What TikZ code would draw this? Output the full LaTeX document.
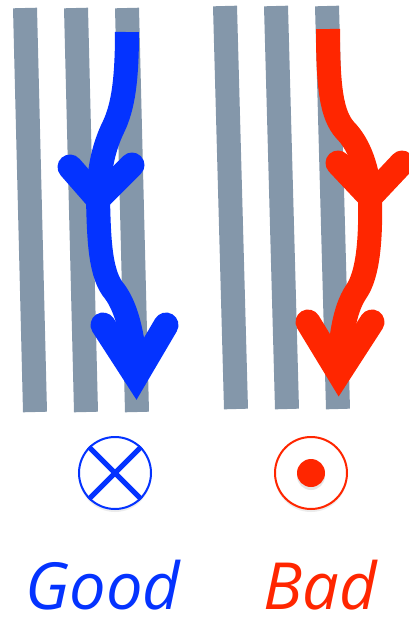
\documentclass[tikz,border=0pt]{standalone}
\usepackage{fontspec}
\setmainfont{Open Sans}
\usetikzlibrary{positioning}
\usetikzlibrary{shadows}
\definecolor{goodblue}{RGB}{4,51,255}
\definecolor{badred}{RGB}{255,38,0}
\definecolor{barcolor}{RGB}{132,151,170}

\begin{document}
\begin{tikzpicture}[
    x=1pt, y=-1pt,
    gridbar/.style={draw=barcolor, line width=24pt},
    flowstem/.style={line width=24pt, line cap=butt},
    flowhead/.style={line width=25pt, line cap=round, line join=miter},
    fieldring/.style={
        circle, draw, fill=white, line width=2pt,
        minimum size=72pt, inner sep=0pt,
        drop shadow={opacity=0.15, shadow xshift=0pt, shadow yshift=-3pt}
    },
    verdict/.style={font=\fontsize{65}{72}\selectfont\itshape, inner sep=0pt}
]
\useasboundingbox (0,0) rectangle (409,622);

% strips, left group
\draw[gridbar] (25,8) -- (35,412);
\draw[gridbar] (76,8) -- (86,412);
\draw[gridbar] (127,8) -- (137,412);

% strips, right group
\draw[gridbar] (225,6) -- (236,409);
\draw[gridbar] (276,6) -- (287,409);
\draw[gridbar] (327,6) -- (338,409);

\begin{scope}[goodblue]

\coordinate (b0) at (127,32);
\coordinate (b1) at (98,199);
\coordinate (b2) at (136,376);
\coordinate (bl1) at (70,167);
\coordinate (br1) at (132,165);
\coordinate (bl2) at (103,325);
\coordinate (br2) at (166,325);

\draw[flowstem] (b0) .. controls (127,90) and (121,112) .. (112,130)
    .. controls (103,150) and (99,170) .. (b1);
\draw[flowstem] (b1) .. controls (99,240) and (100,275) .. (115,292)
    .. controls (128,310) and (134,340) .. (b2);
\draw[flowhead] (bl1) -- (b1) -- (br1);
\draw[flowhead] (bl2) -- (b2) -- (br2);

\node[fieldring, draw=goodblue] (good sym) at (115,473) {};
\draw[line width=5pt] (good sym.north west) -- (good sym.south east);
\draw[line width=5pt] (good sym.north east) -- (good sym.south west);

\node[verdict, text=goodblue, anchor=base] (good word) at (103,609) {Good};

\end{scope}

\begin{scope}[badred]

\coordinate (r0) at (328,29);
\coordinate (r1) at (370,197);
\coordinate (r2) at (339,373);
\coordinate (rl1) at (338,163);
\coordinate (rr1) at (402,163);
\coordinate (rl2) at (308,322);
\coordinate (rr2) at (372,322);

\draw[flowstem] (r0) .. controls (328,90) and (332,115) .. (345,130)
    .. controls (360,145) and (368,170) .. (r1);
\draw[flowstem] (r1) .. controls (371,240) and (368,275) .. (356,292)
    .. controls (344,310) and (340,340) .. (r2);
\draw[flowhead] (rl1) -- (r1) -- (rr1);
\draw[flowhead] (rl2) -- (r2) -- (rr2);

\node[fieldring, draw=badred] (bad sym) at (311,473) {};
\node[circle, fill=badred, minimum size=28pt, inner sep=0pt,
    drop shadow={opacity=0.2, shadow xshift=0pt, shadow yshift=-3pt}] (bad dot) at (bad sym) {};

\node[verdict, text=badred, anchor=base] (bad word) at (320,609) {Bad};

\end{scope}
\end{tikzpicture}
\end{document}
